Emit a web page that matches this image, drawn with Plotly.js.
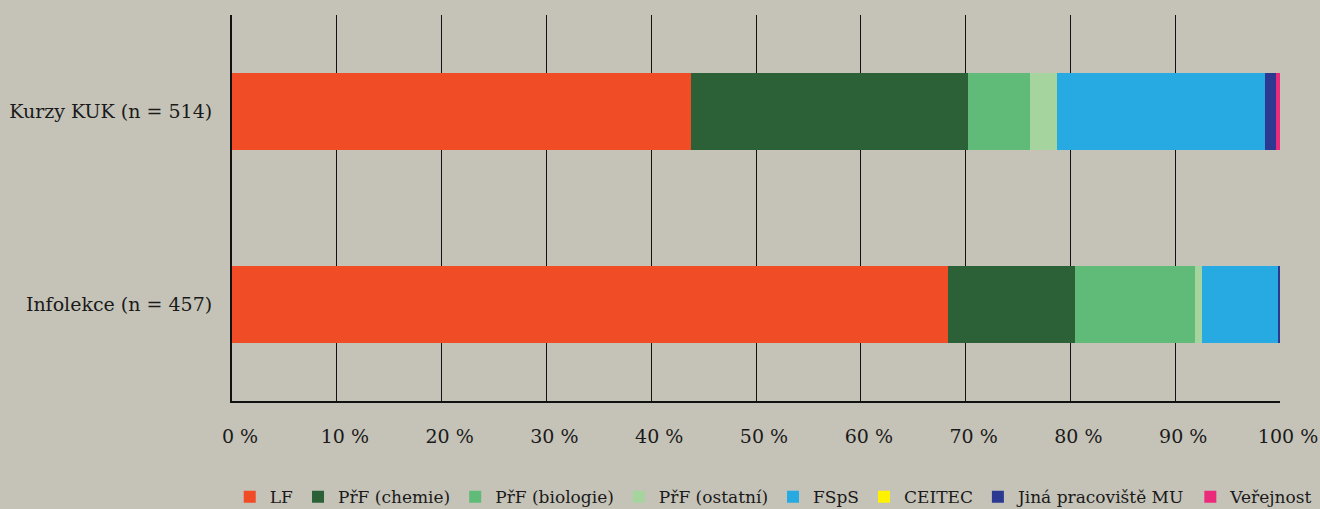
<!DOCTYPE html>
<html><head><meta charset="utf-8">
<script src="https://cdn.plot.ly/plotly-3.0.1.min.js"></script>
<style>html,body{margin:0;padding:0;background:#c5c3b8;}</style>
</head><body>
<div id="chart" style="width:1320px;height:509px;"></div>
<script>
const categories = ["Infolekce (n = 457)", "Kurzy KUK (n = 514)"];
const seriesNames = ["LF", "PřF (chemie)", "PřF (biologie)", "PřF (ostatní)", "FSpS", "CEITEC", "Jiná pracoviště MU", "Veřejnost"];
const LF = [68.3, 43.8];
const prfChemie = [12.1, 26.4];
const prfBiologie = [11.5, 5.9];
const prfOstatni = [0.7, 2.6];
const fsps = [7.2, 19.9];
const ceitec = [0, 0];
const jina = [0.2, 1.0];
const verejnost = [0, 0.4];
const colors = ["#f04c25", "#2c6138", "#5fbb77", "#a6d49f", "#27a9e1", "#fff200", "#2b3990", "#ec2a7b"];
const allValues = [LF, prfChemie, prfBiologie, prfOstatni, fsps, ceitec, jina, verejnost];

const font = "DejaVu Serif";
const traces = allValues.map((vals, i) => ({
  type: "bar",
  orientation: "h",
  name: seriesNames[i],
  y: categories,
  x: vals,
  marker: {color: colors[i], line: {width: 0}},
  width: 0.4,
  hoverinfo: "x+name"
}));

const layout = {
  barmode: "stack",
  paper_bgcolor: "#c5c3b8",
  plot_bgcolor: "#c5c3b8",
  margin: {l: 232, r: 40, t: 15, b: 108, autoexpand: false},
  font: {family: font, color: "#1a1a1a", size: 19},
  xaxis: {
    range: [0, 100],
    dtick: 10,
    ticksuffix: " %",
    showgrid: true,
    gridcolor: "#111",
    gridwidth: 1,
    showline: true,
    linecolor: "#111",
    linewidth: 2,
    zeroline: false,
    ticks: "",
    ticklabelstandoff: 17,
    ticklabelshift: 8,
    tickfont: {family: font, size: 19, color: "#1a1a1a"},
    fixedrange: true
  },
  yaxis: {
    range: [-0.5, 1.5],
    categoryorder: "array",
    categoryarray: categories,
    showline: true,
    linecolor: "#111",
    linewidth: 2,
    showgrid: false,
    ticks: "",
    ticklabelstandoff: 14,
    tickfont: {family: font, size: 19, color: "#1a1a1a"},
    fixedrange: true
  },
  showlegend: true,
  legend: {
    orientation: "h",
    x: 1.036,
    xanchor: "right",
    y: -0.249,
    yanchor: "middle",
    font: {family: font, size: 17, color: "#1a1a1a"},
    traceorder: "normal",
    itemwidth: 30,
    tracegroupgap: 0,
    bgcolor: "rgba(0,0,0,0)"
  }
};

Plotly.newPlot("chart", traces, layout, {displayModeBar: false, responsive: false});
</script>
</body></html>
